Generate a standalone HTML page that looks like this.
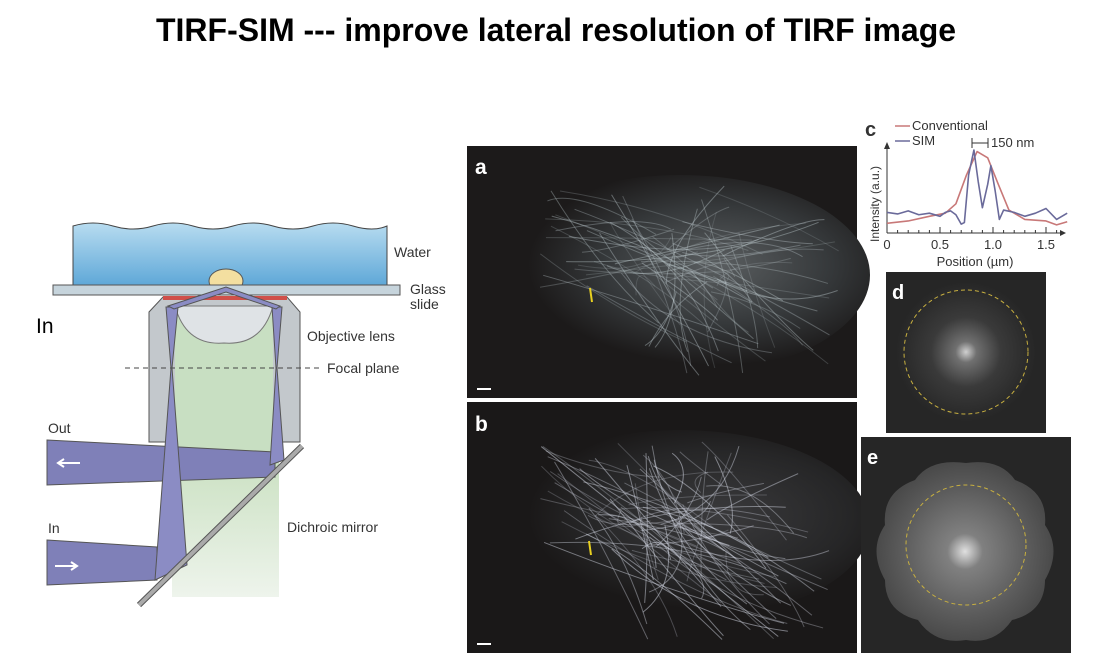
<!DOCTYPE html>
<html><head><meta charset="utf-8"><style>
body{margin:0;background:#fff;width:1097px;height:669px;overflow:hidden;position:relative;font-family:"Liberation Sans",sans-serif}
#title{position:absolute;left:0;width:1112px;top:12px;text-align:center;font-weight:bold;font-size:32px;color:#000;letter-spacing:0px}
svg{position:absolute;left:0;top:0}
</style></head><body>
<div id="title">TIRF-SIM --- improve lateral resolution of TIRF image</div>
<svg width="1097" height="669" id="main">
<defs>
<linearGradient id="wat" x1="0" y1="0" x2="0" y2="1"><stop offset="0" stop-color="#b8dcf0"/><stop offset="1" stop-color="#5fa8d8"/></linearGradient>
<linearGradient id="grn" x1="0" y1="0" x2="0" y2="1"><stop offset="0" stop-color="#c9e0c0"/><stop offset="1" stop-color="#eef4ec"/></linearGradient>
<radialGradient id="cellA" cx="0.6" cy="0.45" r="0.5"><stop offset="0" stop-color="#5a5e60"/><stop offset="0.6" stop-color="#35383a"/><stop offset="1" stop-color="#1c1a1a"/></radialGradient>
<radialGradient id="cellB" cx="0.6" cy="0.45" r="0.5"><stop offset="0" stop-color="#3a3a3c"/><stop offset="0.7" stop-color="#262627"/><stop offset="1" stop-color="#1a1818"/></radialGradient>
<radialGradient id="fftD" cx="0.5" cy="0.5" r="0.5"><stop offset="0" stop-color="#d0d0d0"/><stop offset="0.15" stop-color="#707070"/><stop offset="0.5" stop-color="#3a3a3a"/><stop offset="1" stop-color="#262626"/></radialGradient>
<radialGradient id="fftE" cx="0.5" cy="0.5" r="0.5"><stop offset="0" stop-color="#e0e0e0"/><stop offset="0.2" stop-color="#808080"/><stop offset="0.7" stop-color="#5c5c5c"/><stop offset="1" stop-color="#4a4a4a"/></radialGradient>
</defs>
<g>
<path d="M73,226 q20,-6 40,0 t40,0 t40,0 t40,0 t40,0 t40,0 t40,0 t34,0 V285 H73 Z" fill="url(#wat)" stroke="#444" stroke-width="1"/>
<ellipse cx="226" cy="281" rx="17" ry="12" fill="#f3dfa0" stroke="#555"/>
<rect x="53" y="285" width="347" height="10" fill="#c6d4dc" stroke="#555"/>
<path d="M163,297 H287 L300,312 V442 H149 V312 Z" fill="#c3c8cc" stroke="#555"/>
<rect x="163" y="296" width="124" height="4" fill="#d0504a"/>
<rect x="175" y="306" width="98" height="146" fill="#c8dfc2"/>
<rect x="172" y="452" width="107" height="145" fill="url(#grn)"/>
<path d="M175,306 H273 Q262,346 224,343 Q186,346 175,306 Z" fill="#dfe3e6" stroke="#777"/>
<line x1="125" y1="368" x2="320" y2="368" stroke="#444" stroke-dasharray="5,4"/>
<polygon points="47,440 275,452 275,477 47,485" fill="#7f80b8" stroke="#555"/>
<polygon points="47,540 157,547 157,580 47,585" fill="#7f80b8" stroke="#555"/>
<polygon points="166,307 178,307 172,368 187,565 155,580 171,368" fill="#8b8cc4" stroke="#555"/>
<polygon points="272,307 282,307 277,368 284,460 270,465 276,368" fill="#8b8cc4" stroke="#555"/>
<polygon points="168,306 226,287 280,306 276,309 226,292 174,309" fill="#8b8cc4" stroke="#555"/>
<line x1="139" y1="605" x2="302" y2="446" stroke="#555" stroke-width="6"/>
<line x1="139" y1="605" x2="302" y2="446" stroke="#aaa" stroke-width="4"/>
<path d="M80,463 H58 M64,459 L58,463 L64,467" stroke="#fff" stroke-width="2" fill="none"/>
<path d="M55,566 H77 M71,562 L77,566 L71,570" stroke="#fff" stroke-width="2" fill="none"/>
<g font-size="14" fill="#333">
<text x="394" y="257">Water</text>
<text x="410" y="294">Glass</text>
<text x="410" y="309">slide</text>
<text x="307" y="341">Objective lens</text>
<text x="327" y="373">Focal plane</text>
<text x="287" y="532">Dichroic mirror</text>
<text x="48" y="433">Out</text>
<text x="48" y="533">In</text>
</g>
<text x="36" y="333" font-size="21" fill="#000">In</text>
</g>
<g id="panelA">
<rect x="467" y="146" width="390" height="252" fill="#1c1a1a"/>
<ellipse cx="680" cy="275" rx="190" ry="100" fill="url(#cellA)"/>
<g id="fibA"></g>
<line x1="590" y1="288" x2="592" y2="302" stroke="#e8d020" stroke-width="2"/>
<rect x="477" y="388" width="14" height="2" fill="#fff"/>
<text x="475" y="174" font-size="21" font-weight="bold" fill="#fff">a</text>
</g>
<g id="panelB">
<rect x="467" y="402" width="390" height="251" fill="#1a1818"/>
<ellipse cx="680" cy="525" rx="190" ry="95" fill="url(#cellB)"/>
<g id="fibB"></g>
<line x1="589" y1="541" x2="591" y2="555" stroke="#e8d020" stroke-width="2"/>
<rect x="477" y="643" width="14" height="2" fill="#fff"/>
<text x="475" y="431" font-size="21" font-weight="bold" fill="#fff">b</text>
</g>
<g>
<rect x="886" y="272" width="160" height="161" fill="#262626"/>
<circle cx="966" cy="352" r="70" fill="url(#fftD)"/>
<circle cx="966" cy="352" r="62" fill="none" stroke="#c8b040" stroke-dasharray="4,3"/>
<text x="892" y="299" font-size="20" font-weight="bold" fill="#fff">d</text>
</g>
<g>
<rect x="861" y="437" width="210" height="216" fill="#262626"/>
<path d="M966,463 Q1000,458 1015,480 Q1048,492 1045,525 Q1062,550 1045,580 Q1045,612 1012,620 Q995,645 966,640 Q935,645 918,620 Q885,612 885,580 Q868,550 885,525 Q882,492 915,480 Q930,458 966,463 Z" fill="url(#fftE)"/>
<circle cx="966" cy="545" r="60" fill="none" stroke="#c8b040" stroke-dasharray="4,3"/>
<text x="867" y="464" font-size="20" font-weight="bold" fill="#fff">e</text>
</g>
<g id="chartC"></g>
</svg>
<script>
const NS="http://www.w3.org/2000/svg";
function mk(p,t,a){const e=document.createElementNS(NS,t);for(const k in a)e.setAttribute(k,a[k]);p.appendChild(e);return e;}
// decorative fibers (image texture)
let s=7;function rnd(){s=(s*16807)%2147483647;return s/2147483647;}
function fibers(g,y0,col,n,op){for(let i=0;i<n;i++){const x1=540+rnd()*200,y1=y0+40+rnd()*110,x2=640+rnd()*200,y2=y0+70+rnd()*170;
mk(g,'path',{d:`M${x1},${y1} Q${(x1+x2)/2+rnd()*60-30},${(y1+y2)/2+rnd()*60-30} ${x2},${y2}`,stroke:col,'stroke-width':1,fill:'none',opacity:op*(0.4+rnd()*0.6)});}}
fibers(document.getElementById('fibA'),146,'#b8c4c8',70,0.45);
fibers(document.getElementById('fibB'),402,'#d0d4e0',80,0.55);

// chart c data
const simX=[0,0.1,0.2,0.3,0.4,0.5,0.55,0.6,0.65,0.7,0.73,0.77,0.82,0.86,0.9,0.95,0.98,1.02,1.06,1.1,1.2,1.3,1.4,1.5,1.6,1.7];
const simY=[0.2,0.18,0.22,0.17,0.19,0.15,0.2,0.22,0.17,0.05,0.07,0.68,1.0,0.6,0.26,0.56,0.8,0.48,0.11,0.23,0.2,0.15,0.19,0.25,0.11,0.19];
const convX=[0,0.2,0.4,0.55,0.65,0.75,0.85,0.95,1.05,1.15,1.3,1.5,1.6,1.7];
const convY=[0.06,0.09,0.15,0.19,0.31,0.68,0.98,0.9,0.56,0.23,0.11,0.09,0.04,0.08];
const xTicks=[0,0.5,1.0,1.5];
const xTickLabels=['0','0.5','1.0','1.5'];
const C=document.getElementById('chartC');
const X=v=>887+v*106, Y=v=>228-v*78;
mk(C,'line',{x1:887,y1:233,x2:1063,y2:233,stroke:'#333','stroke-width':1});
mk(C,'polygon',{points:'1066,233 1060,230 1060,236',fill:'#333'});
mk(C,'line',{x1:887,y1:233,x2:887,y2:146,stroke:'#333'});
mk(C,'polygon',{points:'887,142 884,149 890,149',fill:'#333'});
for(let v=0;v<=1.65;v+=0.1){mk(C,'line',{x1:X(v),y1:233,x2:X(v),y2:Math.abs(v*2-Math.round(v*2))<0.01?227:230,stroke:'#333'});}
xTicks.forEach((v,i)=>{const t=mk(C,'text',{x:X(v),y:249,'font-size':13,'text-anchor':'middle',fill:'#333'});t.textContent=xTickLabels[i];

});
function line(xs,ys,col,name){const p=mk(C,'polyline',{points:xs.map((x,i)=>X(x)+','+Y(ys[i])).join(' '),fill:'none',stroke:col,'stroke-width':1.6,'stroke-linejoin':'round'});

}
line(convX,convY,'#c87878','conventional-line');
line(simX,simY,'#6a6a9a','sim-line');
const tt=(x,y,sz,txt,extra)=>{const t=mk(C,'text',Object.assign({x:x,y:y,'font-size':sz,fill:'#333'},extra||{}));t.textContent=txt;return t;};
tt(865,136,20,'c',{'font-weight':'bold'});
tt(912,130,13,'Conventional');tt(912,145,13,'SIM');
mk(C,'line',{x1:895,y1:126,x2:910,y2:126,stroke:'#c87878','stroke-width':1.5});
mk(C,'line',{x1:895,y1:141,x2:910,y2:141,stroke:'#6a6a9a','stroke-width':1.5});
mk(C,'path',{d:'M972,138 V148 M972,143 H988 M988,138 V148',stroke:'#333',fill:'none'});
tt(991,147,13,'150 nm');
const xt=tt(975,266,13,'Position (µm)',{'text-anchor':'middle'});


const yt=tt(0,0,12,'Intensity (a.u.)',{transform:'translate(879,242) rotate(-90)'});


</script>
</body></html>
